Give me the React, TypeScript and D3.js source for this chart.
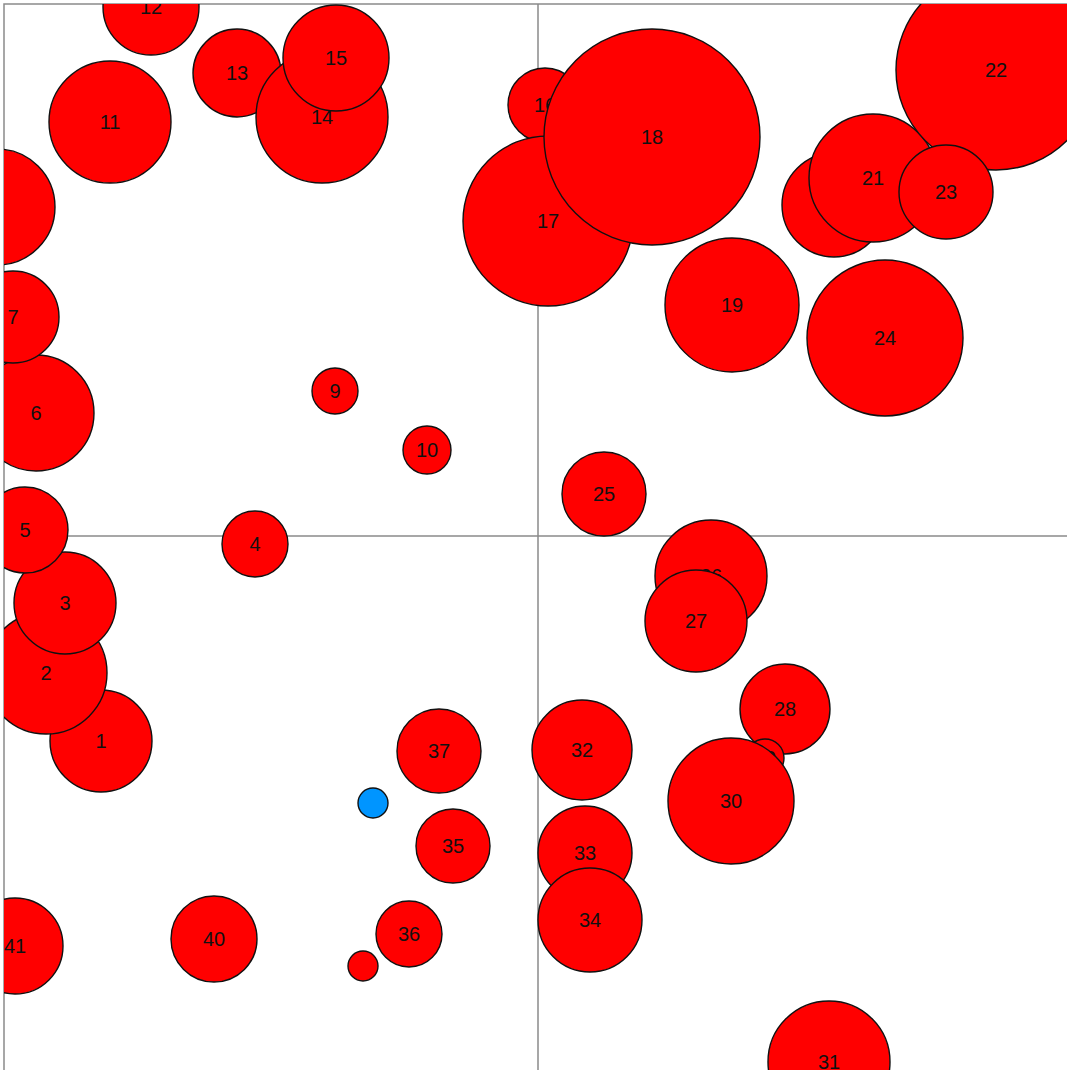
import { useEffect, useRef } from "react"
import * as d3 from "d3"

// bubble data: offsets from the crosshair centre, plus a size value
const labels = ["1", "2", "3", "4", "5", "6", "7", "8", "9", "10", "11", "12", "13", "14", "15", "16", "17", "18", "19", "20", "21", "22", "23", "24", "25", "26", "27", "28", "29", "30", "31", "32", "33", "34", "35", "36", "37", "", "", "40", "41"]
const xValues = [-437, -492, -473, -283, -513, -502, -525, -541, -203, -111, -428, -387, -301, -216, -202, 7, 10, 114, 194, 296, 335, 458, 408, 347, 66, 173, 158, 247, 227, 193, 291, 44, 47, 52, -85, -129, -99, -175, -165, -324, -523]
const yValues = [-205, -137, -67, -8, 6, 123, 219, 329, 145, 86, 414, 529, 463, 419, 478, 431, 315, 399, 231, 331, 358, 466, 344, 198, 42, -40, -85, -173, -222, -265, -526, -214, -317, -384, -310, -398, -215, -430, -267, -403, -410]
const sizes = [51, 61, 51, 33, 43, 58, 46, 58, 23, 24, 61, 48, 44, 66, 53, 37, 85, 108, 67, 52, 64, 100, 47, 78, 42, 56, 51, 45, 19, 63, 61, 50, 47, 52, 37, 33, 42, 15, 15, 43, 48]
const highlighted = [38]

const App = () => {
  const svgRef = useRef<SVGSVGElement>(null)

  useEffect(() => {
    if (!svgRef.current) return
    d3.select(svgRef.current).selectAll("*").remove()

    const svg = d3.select(svgRef.current)
    const plot = { left: 4, top: 4, width: 1068, height: 1064 }

    const xScale = d3.scaleLinear().domain([-534, 534]).range([plot.left, plot.left + plot.width])
    const yScale = d3.scaleLinear().domain([-532, 532]).range([plot.top + plot.height, plot.top])
    const rScale = d3.scaleLinear().domain([0, 100]).range([0, 100])

    // the plot area runs past the bottom/right edge of the window
    const frame = { x: plot.left, y: plot.top, w: plot.width + 20, h: plot.height + 20 }

    svg.append("defs")
      .append("clipPath")
      .attr("id", "plot-clip")
      .append("rect")
      .attr("x", frame.x)
      .attr("y", frame.y)
      .attr("width", frame.w)
      .attr("height", frame.h)

    // border
    svg.append("rect")
      .attr("x", frame.x)
      .attr("y", frame.y)
      .attr("width", frame.w)
      .attr("height", frame.h)
      .attr("fill", "white")
      .attr("stroke", "#8a8a8a")
      .attr("stroke-width", 1.5)

    const g = svg.append("g").attr("clip-path", "url(#plot-clip)")

    // crosshair through the origin
    g.append("line")
      .attr("x1", xScale(0))
      .attr("x2", xScale(0))
      .attr("y1", frame.y)
      .attr("y2", frame.y + frame.h)
      .attr("stroke", "#8a8a8a")
      .attr("stroke-width", 1.5)
    g.append("line")
      .attr("x1", frame.x)
      .attr("x2", frame.x + frame.w)
      .attr("y1", yScale(0))
      .attr("y2", yScale(0))
      .attr("stroke", "#8a8a8a")
      .attr("stroke-width", 1.5)

    const data = labels.map((label, i) => ({ label, x: xValues[i], y: yValues[i], size: sizes[i], i }))

    const nodes = g.selectAll(".bubble")
      .data(data)
      .enter()
      .append("g")
      .attr("class", "bubble")
      .attr("transform", (d) => `translate(${xScale(d.x)},${yScale(d.y)})`)

    nodes.append("circle")
      .attr("r", (d) => rScale(d.size))
      .attr("fill", (d) => (highlighted.includes(d.i) ? "#0095ff" : "#ff0000"))
      .attr("stroke", "#111")
      .attr("stroke-width", 1.4)

    nodes.append("text")
      .attr("text-anchor", "middle")
      .attr("dy", "0.35em")
      .attr("font-family", "Liberation Sans, Arial, sans-serif")
      .attr("font-size", "20px")
      .attr("fill", "#111")
      .text((d) => d.label)
  }, [])

  return (
    <div style={{ position: "absolute", left: 0, top: 0 }}>
      <svg ref={svgRef} width={1067} height={1070} style={{ display: "block" }}></svg>
    </div>
  )
}

export default App
